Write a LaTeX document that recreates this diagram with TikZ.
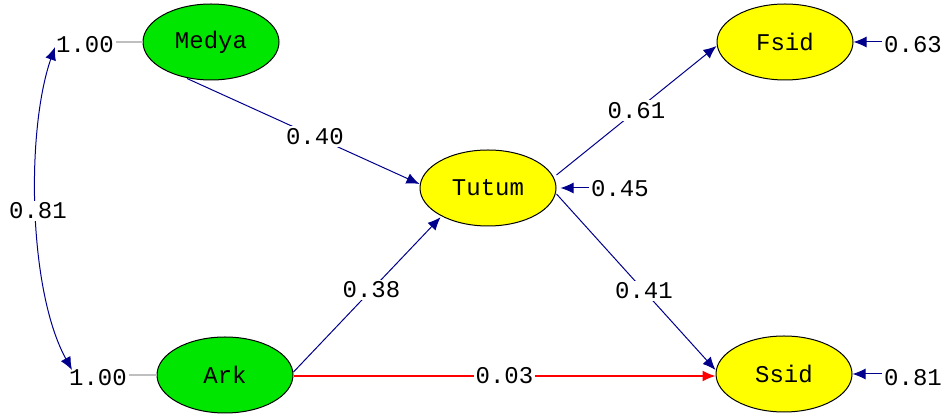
\documentclass[tikz,border=0pt]{standalone}
\usepackage{fontspec}
\setmonofont{Liberation Mono}
\usetikzlibrary{arrows.meta,shapes.geometric}
\definecolor{pathblue}{RGB}{0,0,140}
\definecolor{latgreen}{RGB}{0,230,0}
\definecolor{latyellow}{RGB}{255,255,0}
\tikzset{
  var/.style={ellipse, draw=black, line width=0.5pt, minimum width=68pt, minimum height=38pt, inner sep=0pt, font=\ttfamily\fontsize{12}{12}\selectfont},
  exo/.style={var, fill=latgreen},
  endo/.style={var, fill=latyellow},
  coef/.style={fill=white, text=black, inner sep=1pt, font=\ttfamily\fontsize{12}{12}\selectfont},
  val/.style={inner sep=1pt, font=\ttfamily\fontsize{12}{12}\selectfont},
  link/.style={draw=pathblue, line width=0.5pt, -{Latex[length=6.5pt,width=5.5pt]}},
  redlink/.style={draw=red, line width=0.7pt, -{Latex[length=6.5pt,width=5.5pt]}},
}
\begin{document}
\begin{tikzpicture}[x=0.5pt,y=-0.5pt]
			%%%%% START %%%%%
			\useasboundingbox (0,0) rectangle (944,416);
			
			\node[exo] (medya) at (211, 42) {Medya};
			\node[exo] (ark) at (225, 375) {Ark};
			\node[endo] (tutum) at (488, 188) {Tutum};
			\node[endo] (fsid) at (785, 42) {Fsid};
			\node[endo] (ssid) at (784, 374) {Ssid};
			
			\node[val] (vmedya) at (85, 45) {1.00};
			\node[val] (vark) at (98, 378) {1.00};
			\draw[black!25, line width=0.6pt] (vmedya.east |- medya.west) -- (medya.west);
			\draw[black!25, line width=0.6pt] (vark.east |- ark.west) -- (ark.west);
			
			% correlation between the two exogenous variables
			\coordinate (ctop) at (55, 47);
			\coordinate (cbot) at (72, 370);
			\draw[draw=pathblue, line width=0.5pt, {Latex[length=6.5pt,width=5.5pt]}-{Latex[length=6.5pt,width=5.5pt]}] (ctop) .. controls (26, 130) and (28, 290) .. (cbot);
			\node[coef] at (38, 211) {0.81};
			
			% structural paths
			\draw[link] ([xshift=-12pt,yshift=1pt]medya.south) -- node[coef, pos=0.55] {0.40} ([yshift=2pt]tutum.west);
			\draw[link] ([yshift=1.5pt]ark.east) -- node[coef, pos=0.53] {0.38} ([xshift=0.5pt,yshift=-1pt]tutum.south west);
			\draw[redlink] ([yshift=-0.5pt]ark.east) -- node[coef, pos=0.5] {0.03} ([yshift=-1pt]ssid.west);
			\draw[link] ([yshift=6.5pt]tutum.east) -- node[coef, pos=0.5] {0.61} ([yshift=-2pt]fsid.west);
			\draw[link] ([yshift=-3pt]tutum.east) -- node[coef, pos=0.55] {0.41} ([yshift=2pt]ssid.west);
			
			% error terms
			\node[val] (etutum) at (620, 189) {0.45};
			\node[val] (efsid) at (913, 45) {0.63};
			\node[val] (essid) at (913, 378) {0.81};
			\draw[link] (etutum.west |- tutum.east) -- ([xshift=2pt]tutum.east);
			\draw[link] (efsid.west |- fsid.east) -- (fsid.east);
			\draw[link] (essid.west |- ssid.east) -- (ssid.east);
			
			%%%%% END %%%%%
\end{tikzpicture}
\end{document}
